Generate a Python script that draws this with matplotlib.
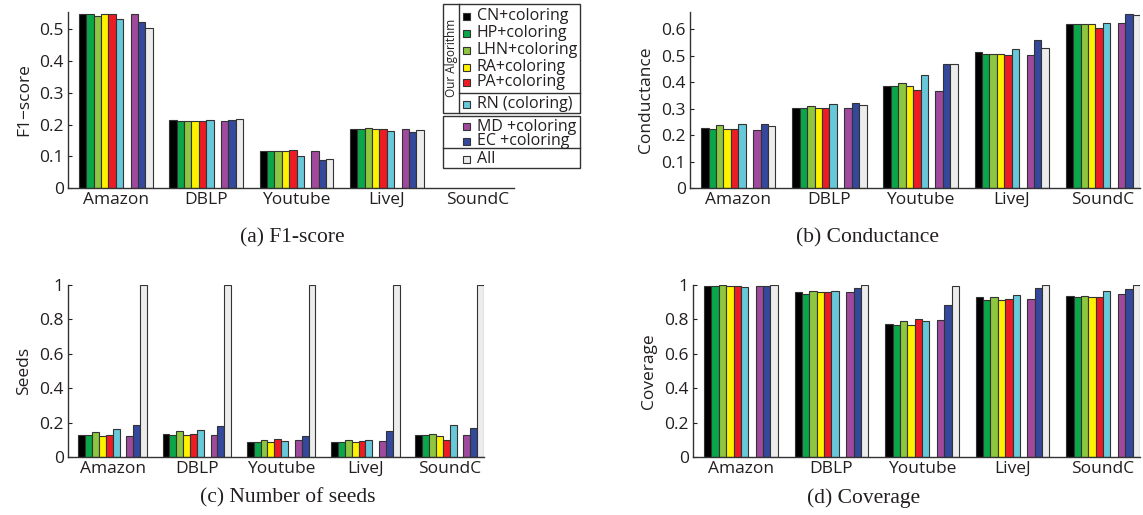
import numpy as np
import matplotlib
matplotlib.use("Agg")
import matplotlib.pyplot as plt
from matplotlib.patches import Rectangle
from matplotlib.lines import Line2D
from matplotlib.ticker import FuncFormatter

# data
datasets = ["Amazon", "DBLP", "Youtube", "LiveJ", "SoundC"]
methods = ["CN+coloring", "HP+coloring", "LHN+coloring", "RA+coloring", "PA+coloring",
           "RN (coloring)", "MD +coloring", "EC +coloring", "All"]
colors = ["#000000", "#0aa64a", "#8dc63f", "#fff200", "#ed1c24",
          "#67c8d9", "#a04a9e", "#34499c", "#ececec"]

# rows = methods, columns = datasets (SoundC has no F1 values)
f1 = [
    [0.550, 0.213, 0.116, 0.185, np.nan],
    [0.550, 0.212, 0.116, 0.185, np.nan],
    [0.543, 0.211, 0.116, 0.189, np.nan],
    [0.548, 0.211, 0.116, 0.185, np.nan],
    [0.550, 0.211, 0.119, 0.186, np.nan],
    [0.532, 0.213, 0.100, 0.181, np.nan],
    [0.550, 0.211, 0.118, 0.185, np.nan],
    [0.524, 0.214, 0.088, 0.176, np.nan],
    [0.505, 0.219, 0.090, 0.183, np.nan],
]
conductance = [
    [0.225, 0.304, 0.387, 0.513, 0.619],
    [0.224, 0.301, 0.387, 0.506, 0.619],
    [0.238, 0.309, 0.395, 0.507, 0.620],
    [0.224, 0.301, 0.387, 0.507, 0.619],
    [0.224, 0.304, 0.372, 0.503, 0.604],
    [0.242, 0.318, 0.426, 0.524, 0.625],
    [0.220, 0.301, 0.367, 0.503, 0.624],
    [0.243, 0.321, 0.469, 0.560, 0.656],
    [0.235, 0.314, 0.469, 0.529, 0.653],
]
seeds = [
    [0.126, 0.132, 0.089, 0.089, 0.128],
    [0.126, 0.126, 0.089, 0.087, 0.126],
    [0.146, 0.150, 0.099, 0.099, 0.134],
    [0.120, 0.126, 0.085, 0.087, 0.120],
    [0.128, 0.134, 0.107, 0.091, 0.097],
    [0.163, 0.157, 0.093, 0.101, 0.184],
    [0.124, 0.130, 0.101, 0.091, 0.128],
    [0.184, 0.179, 0.122, 0.151, 0.167],
    [1.000, 1.000, 1.000, 1.000, 1.000],
]
coverage = [
    [0.996, 0.957, 0.772, 0.930, 0.936],
    [0.996, 0.949, 0.768, 0.914, 0.932],
    [0.998, 0.965, 0.789, 0.930, 0.938],
    [0.996, 0.957, 0.770, 0.914, 0.930],
    [0.996, 0.957, 0.803, 0.918, 0.932],
    [0.988, 0.965, 0.789, 0.942, 0.965],
    [0.996, 0.961, 0.799, 0.916, 0.947],
    [0.996, 0.984, 0.885, 0.984, 0.979],
    [1.000, 1.000, 0.992, 1.000, 1.000],
]

panels = [
    ("F1\u2212score", "(a) F1-score", f1, 0.555, [0, 0.1, 0.2, 0.3, 0.4, 0.5]),
    ("Conductance", "(b) Conductance", conductance, 0.665, [0, 0.1, 0.2, 0.3, 0.4, 0.5, 0.6]),
    ("Seeds", "(c) Number of seeds", seeds, 1.0, [0, 0.2, 0.4, 0.6, 0.8, 1]),
    ("Coverage", "(d) Coverage", coverage, 1.0, [0, 0.2, 0.4, 0.6, 0.8, 1]),
]

W, H = 1143, 515
# axes boxes in pixels: left, right, top, bottom
boxes = [(68, 514, 12, 188), (690, 1140, 12, 188),
         (68, 484, 285, 457), (693, 1140, 285, 457)]
captions_xy = [(292, 238), (868, 238), (288, 498), (864, 498)]

plt.rcParams["font.family"] = ["Open Sans", "DejaVu Sans"]
fig = plt.figure(figsize=(W / 100, H / 100), dpi=100)

w = 0.0815  # one bar slot, group spacing = 1
slots = [0, 1, 2, 3, 4, 5, 7, 8, 9]  # slot 6 is the gap
x = np.arange(len(datasets))
txt = "#231f20"

for (ylab, cap, vals, ytop, yt), (l, r, t, b), (cx, cy) in zip(panels, boxes, captions_xy):
    ax = fig.add_axes([l / W, 1 - b / H, (r - l) / W, (b - t) / H])
    for k, (m, c) in enumerate(zip(methods, colors)):
        ax.bar(x + (slots[k] - 4.5) * w, vals[k], width=w, color=c,
               edgecolor="#333333", linewidth=0.8, label=m, zorder=2)
    ax.set_xlim(-6.5 * w, 4 + 5 * w)
    ax.set_ylim(0, ytop)
    ax.set_yticks(yt)
    ax.yaxis.set_major_formatter(FuncFormatter(lambda v, p: "%g" % v))
    ax.set_xticks(x)
    ax.set_xticklabels(datasets)
    ax.tick_params(direction="in", length=3, labelsize=12.5, colors=txt, pad=3)
    ax.tick_params(axis="x", length=0, pad=3)
    for s in ["top", "right"]:
        ax.spines[s].set_visible(False)
    for s in ["left", "bottom"]:
        ax.spines[s].set_color("#333333")
        ax.spines[s].set_linewidth(1.0)
    ax.set_ylabel(ylab, fontsize=12.5, color=txt, labelpad=5)
    fig.text(cx / W, 1 - cy / H, cap, family="Liberation Serif", fontsize=15.5,
             color=txt, ha="center", va="center")

# custom legend drawn in figure pixels
def fx(px):
    return px / W


def fy(py):
    return 1 - py / H


lc = "#333333"
leg_l, leg_r, sep_x = 443, 580, 459
fig.patches.append(Rectangle((fx(leg_l), fy(113)), fx(leg_r - leg_l), (113 - 4) / H,
                             transform=fig.transFigure, facecolor="white",
                             edgecolor=lc, linewidth=1.0, zorder=5))
fig.patches.append(Rectangle((fx(leg_l), fy(168)), fx(leg_r - leg_l), (168 - 116) / H,
                             transform=fig.transFigure, facecolor="white",
                             edgecolor=lc, linewidth=1.0, zorder=5))
fig.lines.append(Line2D([fx(sep_x), fx(sep_x)], [fy(4), fy(113)], transform=fig.transFigure,
                        color=lc, linewidth=1.0, zorder=6))
fig.lines.append(Line2D([fx(sep_x), fx(leg_r)], [fy(93), fy(93)], transform=fig.transFigure,
                        color=lc, linewidth=1.0, zorder=6))
fig.lines.append(Line2D([fx(leg_l), fx(leg_r)], [fy(148), fy(148)], transform=fig.transFigure,
                        color=lc, linewidth=1.0, zorder=6))
fig.text(fx(451), fy(58), "Our Algorithm", rotation=90, ha="center", va="center",
         fontsize=8.5, color=txt, zorder=7)

entry_y = [16, 33, 50, 67, 82, 104, 127, 141, 159]
for m, c, ey in zip(methods, colors, entry_y):
    fig.patches.append(Rectangle((fx(463), fy(ey + 3.5)), 7 / W, 7 / H,
                                 transform=fig.transFigure, facecolor=c,
                                 edgecolor=lc, linewidth=0.8, zorder=7))
    fig.text(fx(477), fy(ey), m, ha="left", va="center", fontsize=11.5,
             color=txt, zorder=7)

fig.savefig("out.png", dpi=100)
